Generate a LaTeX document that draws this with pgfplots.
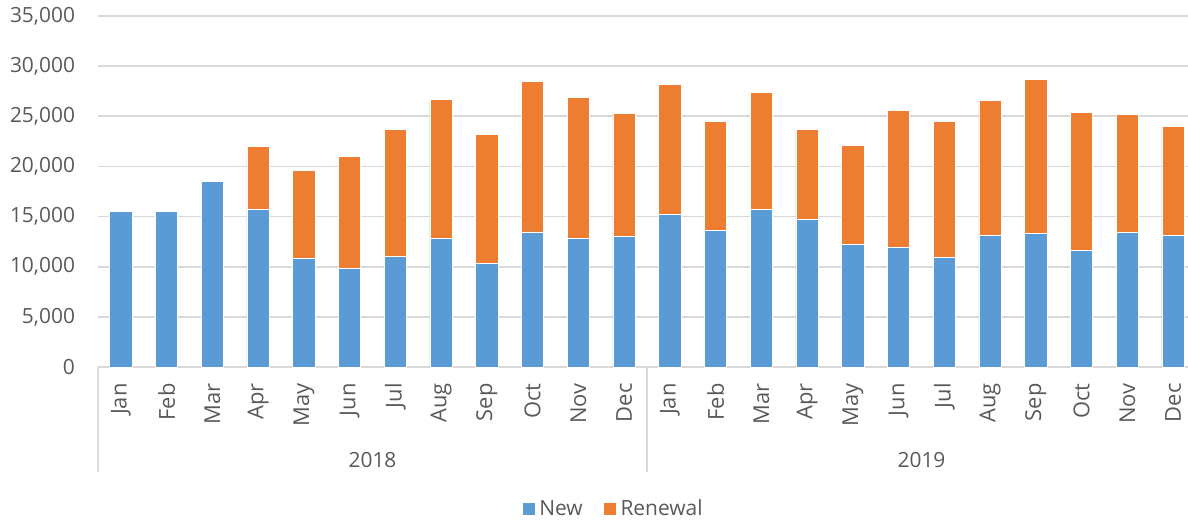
\documentclass[border=0pt]{standalone}
\usepackage{fontspec}
\setmainfont{Open Sans}
\usepackage{pgfplots}
\pgfplotsset{compat=1.18}
\definecolor{newblue}{HTML}{5B9BD5}
\definecolor{renorange}{HTML}{ED7D31}
\definecolor{txt}{HTML}{595959}
\definecolor{gridgray}{HTML}{D9D9D9}
\begin{document}
\begin{tikzpicture}
\begin{axis}[
  scale only axis,
  width=549bp, height=175.5bp,
  ybar stacked, bar width=0.49,
  xmin=-0.5, xmax=23.5, ymin=0, ymax=35000,
  ytick={0,5000,...,35000},
  xtick={0,...,23},
  xticklabels={Jan,Feb,Mar,Apr,May,Jun,Jul,Aug,Sep,Oct,Nov,Dec,Jan,Feb,Mar,Apr,May,Jun,Jul,Aug,Sep,Oct,Nov,Dec},
  x tick label style={rotate=90, anchor=east, inner sep=0pt, xshift=-8bp, font=\fontsize{11}{13}\selectfont, text=txt},
  y tick label style={xshift=-8bp, font=\fontsize{10.5}{12}\selectfont, text=txt},
  /pgf/number format/.cd, 1000 sep={,}, assume math mode=true, /pgfplots/.cd,
  scaled y ticks=false,
  ymajorgrids, xmajorgrids=false,
  y grid style={draw=gridgray, line width=0.8bp},
  major tick length=0pt,
  axis lines*=left,
  y axis line style={draw=none},
  x axis line style={draw=gridgray, line width=0.8bp, -},
  clip=false,
  legend style={at={(0.47,-0.405)}, anchor=center, draw=none, legend columns=2,
    font=\fontsize{10.5}{12}\selectfont, text=txt,
    /tikz/every even column/.append style={column sep=8bp}},
  legend image code/.code={\fill[#1] (0bp,-3.25bp) rectangle (6.5bp,3.25bp);},
]
\addplot[fill=newblue, draw=white, line width=0.4bp] coordinates {
(0,15500)(1,15540)(2,18500)(3,15700)(4,10810)(5,9820)(6,11050)(7,12780)(8,10310)(9,13470)(10,12840)(11,13010)
(12,15170)(13,13640)(14,15670)(15,14700)(16,12210)(17,11910)(18,10910)(19,13080)(20,13340)(21,11610)(22,13410)(23,13110)
};
\addplot[fill=renorange, draw=white, line width=0.4bp] coordinates {
(0,0)(1,60)(2,0)(3,6290)(4,8790)(5,11210)(6,12600)(7,13900)(8,12850)(9,15010)(10,14010)(11,12310)
(12,13040)(13,10850)(14,11710)(15,8990)(16,9910)(17,13710)(18,13610)(19,13500)(20,15310)(21,13780)(22,11780)(23,10850)
};
\legend{New, Renewal}
\draw[draw=gridgray, line width=0.8bp] (axis cs:-0.5,0) -- ([yshift=-52.5bp]axis cs:-0.5,0);
\draw[draw=gridgray, line width=0.8bp] (axis cs:11.5,0) -- ([yshift=-52.5bp]axis cs:11.5,0);
\draw[draw=gridgray, line width=0.8bp] (axis cs:23.5,0) -- ([yshift=-52.5bp]axis cs:23.5,0);
\node[text=txt, font=\fontsize{10.5}{12}\selectfont] at ([yshift=-46.5bp]axis cs:5.5,0) {2018};
\node[text=txt, font=\fontsize{10.5}{12}\selectfont] at ([yshift=-46.5bp]axis cs:17.5,0) {2019};
\end{axis}
\pgfresetboundingbox
\useasboundingbox ([xshift=-49bp, yshift=-77.5bp]current axis.south west) rectangle ([xshift=-4bp, yshift=8bp]current axis.north east);
\end{tikzpicture}
\end{document}
